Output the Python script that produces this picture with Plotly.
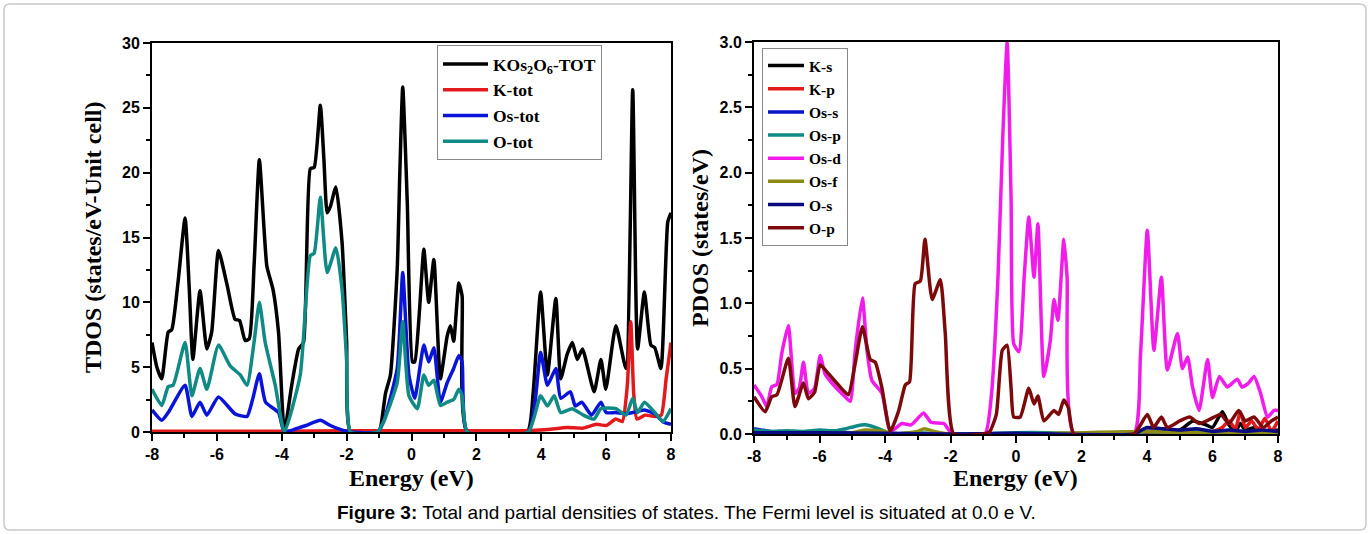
import plotly.graph_objects as go

# ---------------- Left panel: total DOS ----------------
tot_e = [-8.0,-7.85,-7.7,-7.5,-7.39,-7.2,-6.98,-6.85,-6.74,-6.52,-6.31,-6.16,-5.95,-5.69,-5.44,-5.30,-5.13,-5.0,-4.85,-4.69,-4.46,-4.27,-4.10,-3.92,-3.7,-3.48,-3.33,-3.12,-3.0,-2.81,-2.70,-2.60,-2.5,-2.33,-2.14,-2.0,-1.88,-1.05,-0.96,-0.8,-0.65,-0.44,-0.36,-0.27,-0.13,0.03,0.1,0.25,0.38,0.53,0.69,0.89,1.1,1.2,1.3,1.46,1.56,1.72,3.57,3.75,3.98,4.19,4.45,4.60,4.8,4.96,5.11,5.27,5.63,5.84,5.99,6.30,6.61,6.82,6.97,7.18,7.38,7.5,7.69,7.90,8.0]
tot_v = [6.9,5.0,4.1,7.7,7.9,11.5,16.5,11.0,5.6,10.9,6.4,7.7,14.0,11.4,8.7,8.6,7.05,7.2,13.0,21.0,12.8,11.0,7.7,0.0,3.5,6.4,6.9,20.3,20.4,25.2,21.0,16.9,17.4,18.9,14.6,7.0,0.0,0.0,0.3,3.0,4.4,12.6,20.0,26.6,17.7,5.4,5.4,9.5,14.1,10.0,13.3,4.1,7.4,8.2,7.0,11.5,10.5,0.0,0.0,3.0,10.8,4.4,10.3,4.1,6.0,6.9,5.6,6.4,3.1,5.6,3.3,8.2,4.9,26.4,6.4,10.8,6.7,6.5,4.9,16.2,16.9]

k_e = [-8,-4,-2,0,2,3.5,4.2,4.8,5.3,5.7,6.0,6.3,6.5,6.65,6.76,6.85,6.95,7.2,7.5,7.7,7.85,8.0]
k_v = [0.05,0.05,0.1,0.1,0.1,0.1,0.2,0.35,0.3,0.6,0.5,1.0,0.8,3.5,8.5,3.0,1.0,1.3,1.2,1.3,4.1,6.9]

os_e = [-8,-7.7,-7.5,-6.98,-6.77,-6.52,-6.31,-5.95,-5.44,-5.07,-4.9,-4.69,-4.5,-4.1,-3.92,-3.5,-3.25,-2.81,-2.5,-2.2,-1.88,-1.05,-0.86,-0.44,-0.27,-0.08,0.1,0.38,0.53,0.69,0.89,1.1,1.3,1.46,1.56,1.72,3.6,3.98,4.19,4.45,4.6,4.9,5.05,5.25,5.55,5.84,6.0,6.3,6.6,6.82,7.18,7.5,7.75,8.0]
os_v = [1.7,0.9,1.5,3.6,1.2,2.3,1.3,2.7,1.4,1.2,2.5,4.5,2.3,1.5,0.0,0.3,0.5,0.9,0.5,0.2,0.0,0.0,0.8,4.9,12.3,4.4,2.6,6.7,5.4,6.5,2.3,3.8,4.9,5.9,5.4,0.0,0.0,6.15,3.6,4.9,2.6,3.1,2.0,2.3,1.3,2.3,1.5,1.5,1.4,1.5,1.7,1.4,0.8,0.6]

ot_e = [-8,-7.7,-7.5,-7.35,-6.98,-6.77,-6.52,-6.31,-5.95,-5.59,-5.28,-5.07,-4.85,-4.69,-4.51,-4.2,-3.92,-3.43,-3.12,-3.0,-2.81,-2.6,-2.33,-2.14,-2.0,-1.88,-1.05,-0.86,-0.44,-0.27,-0.08,0.18,0.38,0.53,0.69,0.89,1.1,1.3,1.46,1.56,1.72,3.6,3.98,4.19,4.4,4.6,4.95,5.3,5.63,5.84,6.3,6.61,6.82,6.97,7.18,7.5,7.75,8.0]
ot_v = [3.3,2.05,3.5,3.6,6.9,2.8,4.9,3.3,6.7,5.1,4.4,3.6,7.0,10.0,6.9,3.6,0.0,4.4,13.6,13.8,18.1,12.3,14.2,11.0,5.5,0.0,0.0,0.8,3.8,8.5,2.8,1.8,4.4,3.6,4.0,2.05,2.3,2.5,3.3,2.8,0.0,0.0,2.8,2.0,2.8,1.5,1.8,1.3,1.0,1.8,1.8,1.3,2.6,1.5,2.3,1.5,0.8,1.8]

# ---------------- Right panel: partial DOS ----------------
ks_e = [-8,3.5,4,4.5,5,5.4,5.8,6.0,6.3,6.5,6.7,6.85,7.0,7.3,7.6,8]
ks_v = [0,0,0.02,0.02,0.03,0.1,0.07,0.05,0.17,0.07,0.02,0.08,0.03,0.05,0.02,0.03]

kp_e = [-8,5.5,6.0,6.3,6.5,6.7,6.85,7.0,7.2,7.4,7.6,7.8,8]
kp_v = [0,0,0.02,0.05,0.1,0.04,0.17,0.05,0.1,0.03,0.12,0.02,0.1]

oss_e = [-8,-7.5,-7,-6,-5,-4,-3,-2,0,2,4,5,6,7,8]
oss_v = [0.04,0.02,0.015,0.02,0.01,0.005,0,0,0.005,0,0.02,0.02,0.015,0.01,0.01]

osp_e = [-8,-7.5,-7,-6.5,-6,-5.5,-5.2,-4.9,-4.6,-4.3,-4.0,-3.84,-3.0,-2.0,-1,0,1,2,3.6,4,4.5,5,5.5,6,6.5,7,7.5,8]
osp_v = [0.03,0.02,0.025,0.02,0.03,0.025,0.04,0.06,0.07,0.05,0.02,0,0.01,0,0,0.01,0.01,0,0,0.02,0.01,0.02,0.015,0.02,0.02,0.02,0.015,0.02]

osd_e = [-8,-7.76,-7.61,-7.46,-7.3,-7.15,-6.95,-6.75,-6.62,-6.49,-6.34,-6.15,-5.98,-5.83,-5.52,-5.22,-5.06,-4.91,-4.69,-4.55,-4.40,-4.09,-3.84,-3.48,-3.2,-2.82,-2.6,-2.2,-1.95,-0.95,-0.75,-0.55,-0.4,-0.27,-0.15,-0.07,0.09,0.25,0.39,0.55,0.67,0.85,1.05,1.16,1.28,1.46,1.56,1.77,3.6,3.8,4.01,4.21,4.44,4.62,4.93,5.08,5.24,5.39,5.59,5.85,6.0,6.21,6.45,6.76,6.9,7.1,7.27,7.47,7.68,7.88,8.0]
osd_v = [0.375,0.285,0.21,0.36,0.38,0.62,0.83,0.31,0.35,0.55,0.31,0.35,0.6,0.46,0.36,0.285,0.25,0.64,1.04,0.64,0.41,0.31,0.02,0.08,0.07,0.16,0.09,0.08,0,0,0.3,1.2,2.3,3.0,1.8,0.69,0.63,1.2,1.66,1.2,1.61,0.44,0.72,1.03,0.87,1.49,1.2,0,0,0.6,1.56,0.64,1.2,0.49,0.77,0.5,0.59,0.36,0.18,0.57,0.28,0.44,0.36,0.42,0.36,0.39,0.44,0.31,0.13,0.18,0.18]

osf_e = [-8,-5,-4.6,-4.0,-3.84,-3.0,-2.8,-2.5,-2,0,4,5,6,7,8]
osf_v = [0.005,0.01,0.03,0.02,0,0.02,0.04,0.02,0,0,0.02,0.01,0.01,0.01,0.01]

os_s_e = [-8,-6,-4,-2,0,3.6,4,4.5,5,5.5,6,6.5,7,7.5,8]
os_s_v = [0.01,0.01,0.005,0,0.005,0,0.05,0.04,0.03,0.04,0.02,0.03,0.02,0.03,0.02]

op_e = [-8,-7.66,-7.46,-7.3,-6.95,-6.75,-6.49,-6.34,-6.15,-5.98,-5.72,-5.37,-5.12,-4.91,-4.69,-4.45,-4.3,-4.1,-3.84,-3.58,-3.38,-3.25,-3.08,-2.92,-2.78,-2.56,-2.31,-2.16,-1.9,-1.0,-0.8,-0.6,-0.42,-0.27,-0.15,-0.07,0.13,0.39,0.55,0.67,0.85,1.16,1.3,1.46,1.6,1.77,3.6,4.01,4.2,4.44,4.62,5.0,5.3,5.6,5.9,6.25,6.5,6.8,7.0,7.27,7.55,7.8,8.0]
op_v = [0.285,0.17,0.285,0.3,0.58,0.21,0.39,0.27,0.32,0.53,0.46,0.36,0.3,0.54,0.82,0.57,0.55,0.36,0.02,0.18,0.375,0.4,1.15,1.17,1.49,1.03,1.18,0.77,0,0,0.02,0.15,0.64,0.68,0.35,0.13,0.13,0.35,0.23,0.29,0.1,0.18,0.15,0.26,0.2,0,0,0.15,0.05,0.13,0.05,0.1,0.13,0.08,0.11,0.15,0.08,0.18,0.1,0.13,0.05,0.1,0.13]

# tick labels
x_tickvals = [-8, -6, -4, -2, 0, 2, 4, 6, 8]
x_ticktext = ["-8", "-6", "-4", "-2", "0", "2", "4", "6", "8"]
tdos_tickvals = [0, 5, 10, 15, 20, 25, 30]
pdos_tickvals = [0.0, 0.5, 1.0, 1.5, 2.0, 2.5, 3.0]

left_series = [
    ("KOs<sub>2</sub>O<sub>6</sub>-TOT", tot_e, tot_v, "#000000"),
    ("K-tot", k_e, k_v, "#e31a1c"),
    ("Os-tot", os_e, os_v, "#0a14d8"),
    ("O-tot", ot_e, ot_v, "#108a84"),
]
right_series = [
    ("K-s", ks_e, ks_v, "#000000"),
    ("K-p", kp_e, kp_v, "#e31a1c"),
    ("Os-s", oss_e, oss_v, "#0a14c8"),
    ("Os-p", osp_e, osp_v, "#108a84"),
    ("Os-d", osd_e, osd_v, "#f21cea"),
    ("Os-f", osf_e, osf_v, "#8c8c14"),
    ("O-s", os_s_e, os_s_v, "#0a0a80"),
    ("O-p", op_e, op_v, "#7d0a0a"),
]

W, H = 1371, 534
def px(x): return x / W
def py(y): return 1 - y / H

fig = go.Figure()
for name, e, v, c in left_series:
    fig.add_trace(go.Scatter(x=e, y=v, name=name, mode="lines",
                             line=dict(color=c, width=3.5, shape="spline", smoothing=0.5),
                             xaxis="x", yaxis="y", legend="legend"))
for name, e, v, c in right_series:
    fig.add_trace(go.Scatter(x=e, y=v, name=name, mode="lines",
                             line=dict(color=c, width=3.5, shape="spline", smoothing=0.5),
                             xaxis="x2", yaxis="y2", legend="legend2"))

tickfont = dict(family="Liberation Sans", size=16, color="black", weight="bold")
common = dict(showline=True, linecolor="black", linewidth=2, mirror=True, ticks="outside",
              ticklen=7, tickwidth=2, tickcolor="black", showgrid=False, zeroline=False,
              tickfont=tickfont, automargin=False)
minor = dict(ticks="outside", ticklen=4, tickwidth=2, tickcolor="black", showgrid=False)

fig.update_layout(
    width=W, height=H, margin=dict(l=0, r=0, t=0, b=0, autoexpand=False),
    paper_bgcolor="white", plot_bgcolor="white",
    xaxis=dict(domain=[px(152), px(671)], range=[-8, 8], tickvals=x_tickvals, ticktext=x_ticktext,
               minor=dict(dtick=1, tick0=0, **minor), anchor="y", **common),
    yaxis=dict(domain=[py(432), py(43)], range=[0, 30], tickvals=tdos_tickvals,
               minor=dict(dtick=2.5, tick0=0, **minor), anchor="x", **common),
    xaxis2=dict(domain=[px(754), px(1278)], range=[-8, 8], tickvals=x_tickvals, ticktext=x_ticktext,
                minor=dict(dtick=1, tick0=0, **minor), anchor="y2", **common),
    yaxis2=dict(domain=[py(434), py(42)], range=[0, 3.0], tickvals=pdos_tickvals, tickformat=".1f",
                minor=dict(dtick=0.25, tick0=0, **minor), anchor="x2", **common),
    legend=dict(x=px(437), y=py(45), xanchor="left", yanchor="top",
                bgcolor="white", bordercolor="#888888", borderwidth=1,
                font=dict(family="Liberation Serif", size=17.5, color="black", weight="bold"),
                tracegroupgap=0, itemwidth=45),
    legend2=dict(x=px(762), y=py(48), xanchor="left", yanchor="top",
                 bgcolor="white", bordercolor="#888888", borderwidth=1,
                 font=dict(family="Liberation Serif", size=15.5, color="black", weight="bold"),
                 tracegroupgap=0, itemwidth=36),
    showlegend=True,
)

titlefont = dict(family="Liberation Serif", size=24, color="black", weight="bold")
fig.add_annotation(text="TDOS (states/eV-Unit cell)", x=px(93), y=py(237), xref="paper", yref="paper",
                   textangle=-90, showarrow=False, font=titlefont, xanchor="center", yanchor="middle")
fig.add_annotation(text="PDOS (states/eV)", x=px(700), y=py(238), xref="paper", yref="paper",
                   textangle=-90, showarrow=False, font=titlefont, xanchor="center", yanchor="middle")
fig.add_annotation(text="Energy (eV)", x=px(411), y=py(478), xref="paper", yref="paper",
                   showarrow=False, font=titlefont, xanchor="center", yanchor="middle")
fig.add_annotation(text="Energy (eV)", x=px(1016), y=py(478), xref="paper", yref="paper",
                   showarrow=False, font=titlefont, xanchor="center", yanchor="middle")
fig.add_annotation(text="<b>Figure 3:</b> Total and partial densities of states. The Fermi level is situated at 0.0 e V.",
                   x=px(686), y=py(512), xref="paper", yref="paper", showarrow=False,
                   font=dict(family="Liberation Sans", size=19, color="black"),
                   xanchor="center", yanchor="middle")

# outer rounded frame
x0, x1, y0, y1 = px(4), px(1366), py(4), py(530)
rx, ry = 6 / W, 6 / H
path = (f"M {x0+rx},{y0} L {x1-rx},{y0} Q {x1},{y0} {x1},{y0-ry} L {x1},{y1+ry} "
        f"Q {x1},{y1} {x1-rx},{y1} L {x0+rx},{y1} Q {x0},{y1} {x0},{y1+ry} L {x0},{y0-ry} "
        f"Q {x0},{y0} {x0+rx},{y0} Z")
fig.add_shape(type="path", path=path, xref="paper", yref="paper",
              line=dict(color="#c8c8c8", width=1.5), layer="below")

fig.write_html("out.html", config={"displayModeBar": False},
               post_script="document.body.style.margin='0';document.body.style.overflow='hidden';")
